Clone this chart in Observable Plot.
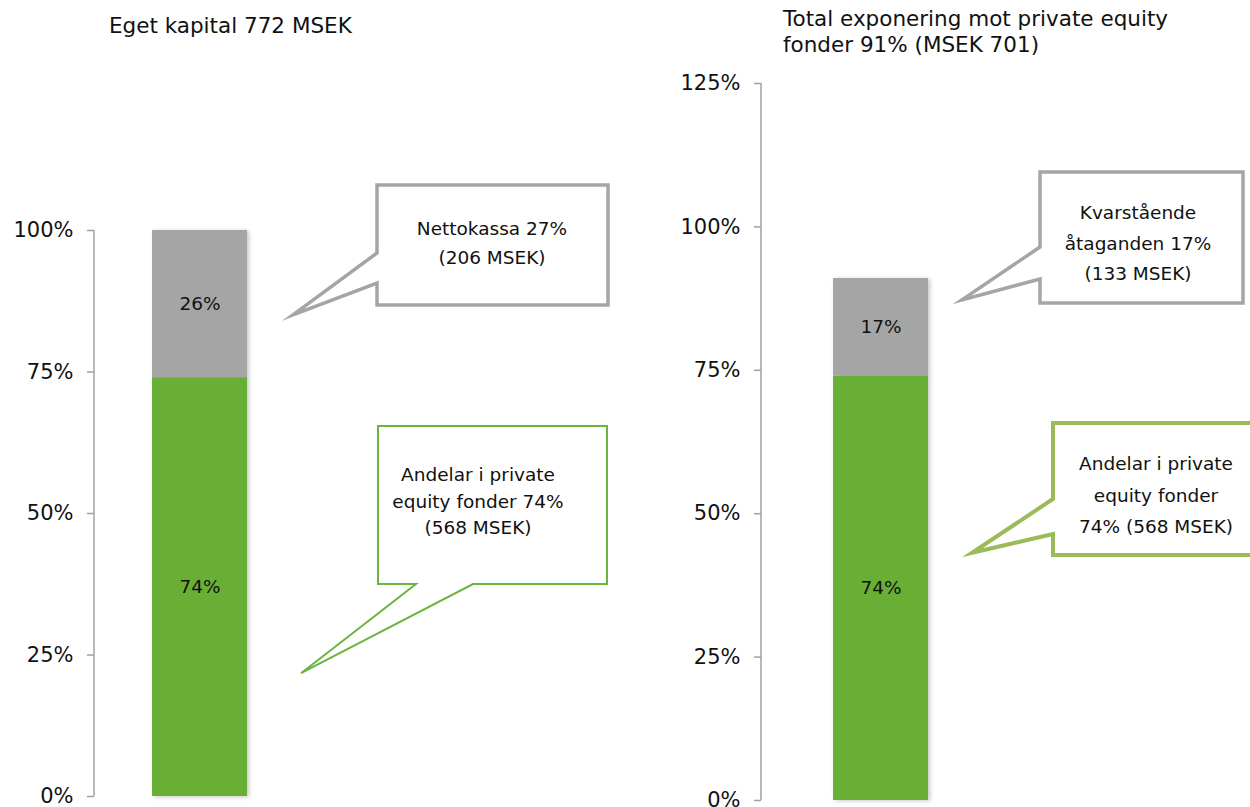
<!DOCTYPE html>
<html><head><meta charset="utf-8">
<script src="https://cdn.jsdelivr.net/npm/d3@7"></script>
<script src="https://cdn.jsdelivr.net/npm/@observablehq/plot@0.6"></script>
<style>
html,body{margin:0;padding:0;background:#fff;}
#root{position:relative;width:1250px;height:807px;overflow:hidden;font-family:"DejaVu Sans",Verdana,sans-serif;}
.panel{position:absolute;top:0;}
.title{position:absolute;font-size:21.5px;line-height:26px;color:#111;white-space:pre;}
</style></head><body><div id="root"></div>
<script>
// ---------- DATA ----------
const leftTitle = "Eget kapital 772 MSEK";
const rightTitle = "Total exponering mot private equity\nfonder 91% (MSEK 701)";

const leftSegments = ["Andelar i private equity fonder", "Nettokassa"];
const leftValues = [74, 26];
const leftLabels = ["74%", "26%"];

const rightSegments = ["Andelar i private equity fonder", "Kvarstående åtaganden"];
const rightValues = [74, 17];
const rightLabels = ["74%", "17%"];

const leftTicks = [0, 25, 50, 75, 100];
const rightTicks = [0, 25, 50, 75, 100, 125];

const leftCalloutTexts = [["Nettokassa 27%", "(206 MSEK)"], ["Andelar i private", "equity fonder 74%", "(568 MSEK)"]];
const leftCalloutTargets = [85, 21.7];
const rightCalloutTexts = [["Kvarstående", "åtaganden 17%", "(133 MSEK)"], ["Andelar i private", "equity fonder", "74% (568 MSEK)"]];
const rightCalloutTargets = [87.2, 43.1];

// ---------- STYLE / LAYOUT ----------
const FONT = "DejaVu Sans, Verdana, sans-serif";
const GREEN = "#6AAF35", GRAY = "#A5A5A5";
const colorDomain = ["Andelar i private equity fonder", "Nettokassa", "Kvarstående åtaganden"];
const colorRange = [GREEN, GRAY, GRAY];

const root = document.getElementById("root");

function makePanel(cfg) {
  const rows = cfg.segments.map((s, i) => ({bar: "bar", segment: s, value: cfg.values[i], label: cfg.labels[i]}));
  const chart = Plot.plot({
    width: 625, height: 807,
    marginLeft: cfg.marginLeft, marginRight: cfg.marginRight,
    marginTop: cfg.marginTop, marginBottom: cfg.marginBottom,
    style: {fontFamily: FONT, fontSize: "21px", color: "#111", background: "transparent", overflow: "visible"},
    x: {domain: ["bar"], padding: cfg.padding, axis: null},
    y: {domain: [0, cfg.ticks[cfg.ticks.length - 1]]},
    color: {domain: colorDomain, range: colorRange},
    marks: [
      Plot.barY(rows, Plot.stackY({x: "bar", y: "value", fill: "segment"})),
      Plot.text(rows, Plot.stackY({x: "bar", y: "value", text: "label", fontSize: 18.5, fill: "#111"})),
      Plot.axisY(cfg.ticks, {label: null, tickSize: 7, tickPadding: 14, tickFormat: d => d + "%", stroke: "#a0a0a0", strokeWidth: 1.5, fill: "#111", fontSize: 21})
    ]
  });
  chart.classList.add("panel");
  chart.style.left = cfg.offsetX + "px";
  root.appendChild(chart);

  const y = chart.scale("y");
  const svg = d3.select(chart);
  svg.selectAll('g[aria-label="bar"]').style("filter", "drop-shadow(2px 1px 2px rgba(0,0,0,0.22))");
  // axis line
  svg.append("line")
    .attr("x1", cfg.marginLeft).attr("x2", cfg.marginLeft)
    .attr("y1", y.apply(0)).attr("y2", y.apply(cfg.ticks[cfg.ticks.length - 1]))
    .attr("stroke", "#a0a0a0").attr("stroke-width", 1.5);

  // callouts
  cfg.callouts.forEach((c, i) => {
    const o = cfg.offsetX;
    const b = {x1: c.box[0] - o, y1: c.box[1], x2: c.box[2] - o, y2: c.box[3]};
    const tx = c.tipX - o, ty = y.apply(cfg.targets[i]);
    let pts;
    if (c.side === "left") {
      pts = [[b.x1, b.y1], [b.x2, b.y1], [b.x2, b.y2], [b.x1, b.y2], [b.x1, c.base[1]], [tx, ty], [b.x1, c.base[0]]];
    } else {
      pts = [[b.x1, b.y1], [b.x2, b.y1], [b.x2, b.y2], [c.base[1] - o, b.y2], [tx, ty], [c.base[0] - o, b.y2], [b.x1, b.y2]];
    }
    svg.append("path")
      .attr("d", "M" + pts.map(p => p.join(",")).join("L") + "Z")
      .attr("fill", "#fff").attr("stroke", c.color).attr("stroke-width", c.width)
      .attr("stroke-linejoin", "miter").attr("stroke-miterlimit", 10);
    const t = svg.append("text").attr("text-anchor", "middle")
      .attr("font-family", FONT).attr("font-size", 18.5).attr("fill", "#111");
    cfg.texts[i].forEach((line, j) => {
      t.append("tspan").attr("x", c.textX - o).attr("y", c.baseline + j * c.lineStep).text(line);
    });
  });
}

makePanel({
  offsetX: 0, marginLeft: 94, marginRight: 320, marginTop: 230, marginBottom: 11, padding: 0.379,
  segments: leftSegments, values: leftValues, labels: leftLabels, ticks: leftTicks,
  texts: leftCalloutTexts, targets: leftCalloutTargets,
  callouts: [
    {box: [377, 185, 608, 305], side: "left", base: [253, 283], tipX: 293, color: GRAY, width: 3.5, textX: 492, baseline: 235, lineStep: 29},
    {box: [378, 426, 607, 584], side: "bottom", base: [416, 473], tipX: 301, color: "#6DB33F", width: 2, textX: 478, baseline: 481, lineStep: 26.5}
  ]
});

makePanel({
  offsetX: 625, marginLeft: 136, marginRight: 250, marginTop: 83, marginBottom: 7, padding: 0.431,
  segments: rightSegments, values: rightValues, labels: rightLabels, ticks: rightTicks,
  texts: rightCalloutTexts, targets: rightCalloutTargets,
  callouts: [
    {box: [1040, 172, 1243, 303], side: "left", base: [247, 279], tipX: 962, color: GRAY, width: 3.5, textX: 1138, baseline: 219, lineStep: 30.5},
    {box: [1053, 423, 1268, 555], side: "left", base: [499, 534], tipX: 972, color: "#9BBB59", width: 4, textX: 1156, baseline: 470, lineStep: 31.5}
  ]
});

// titles
const t1 = document.createElement("div");
t1.className = "title"; t1.style.left = "109px"; t1.style.top = "13px"; t1.textContent = leftTitle;
root.appendChild(t1);
const t2 = document.createElement("div");
t2.className = "title"; t2.style.left = "783px"; t2.style.top = "6px"; t2.textContent = rightTitle;
root.appendChild(t2);
</script>
</body></html>
